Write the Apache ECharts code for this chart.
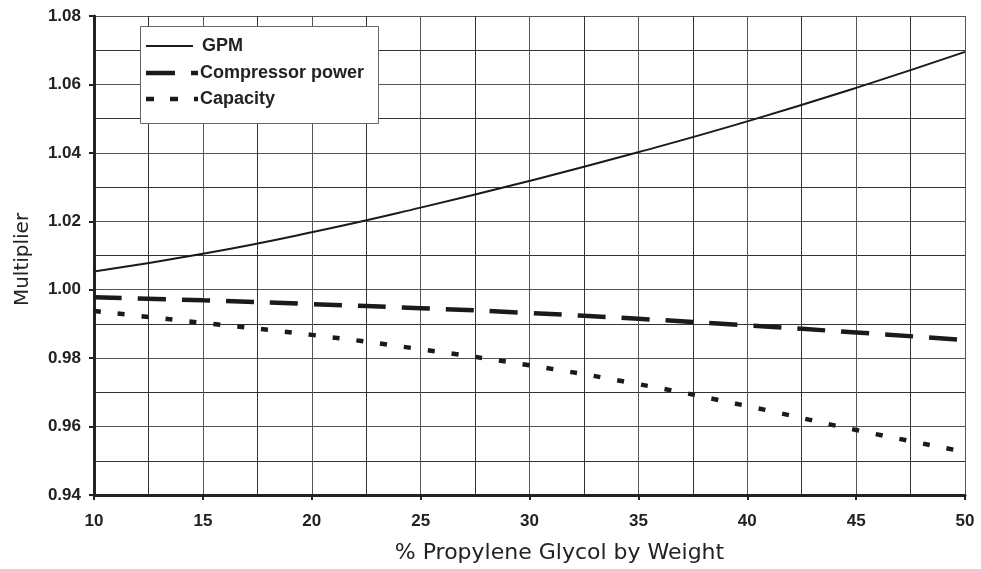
<!DOCTYPE html>
<html><head><meta charset="utf-8">
<script src="https://cdn.jsdelivr.net/npm/echarts@6/dist/echarts.min.js"></script>
<style>html,body{margin:0;padding:0;background:#fff}#c{width:981px;height:569px}</style>
</head><body><div id="c"></div>
<script>
const glycol = [10, 15, 20, 25, 30, 35, 40, 45, 50];
const gpm = [1.0053, 1.0105, 1.0168, 1.0240, 1.0318, 1.0402, 1.0492, 1.0590, 1.0695];
const compressorPower = [0.9978, 0.9969, 0.9958, 0.9946, 0.9932, 0.9915, 0.9896, 0.9875, 0.9853];
const capacity = [0.9938, 0.9903, 0.9868, 0.9826, 0.9779, 0.9724, 0.9660, 0.9590, 0.9526];
const seriesNames = ['GPM', 'Compressor power', 'Capacity'];

const lineColor = '#1a1a1a';
const styles = [
  { width: 2, type: 'solid', dash: null, end: 193 },
  { width: 4.5, type: [28, 16], dash: [29, 16], end: 198 },
  { width: 4.5, type: [7, 17], dash: [8, 16], end: 198 }
];

const toPairs = arr => glycol.map((x, i) => [x, arr[i]]);
const chart = echarts.init(document.getElementById('c'));

const legendGraphics = [
  { type: 'rect', shape: { x: 140.5, y: 26.5, width: 238, height: 97 },
    style: { fill: '#fff', stroke: '#666', lineWidth: 1 }, z: 100 }
];
const rowsY = [46, 73, 99];
seriesNames.forEach((n, i) => {
  legendGraphics.push({ type: 'line', shape: { x1: 146, y1: rowsY[i], x2: styles[i].end, y2: rowsY[i] },
    style: { stroke: lineColor, lineWidth: styles[i].width, lineDash: styles[i].dash }, z: 101 });
  legendGraphics.push({ type: 'text', x: i === 0 ? 202 : 200, y: rowsY[i], z: 101,
    style: { text: n, fill: '#222', font: 'bold 18px "Liberation Sans", Arial', textVerticalAlign: 'middle', verticalAlign: 'middle' } });
});

chart.setOption({
  animation: false,
  backgroundColor: '#fff',
  grid: { left: 94, right: 16, top: 16, bottom: 73 },
  graphic: legendGraphics,
  xAxis: {
    type: 'value', min: 10, max: 50, interval: 5,
    name: '% Propylene Glycol by Weight', nameLocation: 'middle', nameGap: 47,
    nameTextStyle: { fontFamily: 'DejaVu Sans', fontSize: 22, color: '#222', padding: [0, 0, 0, 60] },
    axisLine: { show: true, lineStyle: { color: '#222', width: 3 } },
    axisTick: { show: true, length: 5, lineStyle: { color: '#222', width: 2 } },
    axisLabel: { fontFamily: 'Liberation Sans, Arial', fontWeight: 'bold', fontSize: 17, color: '#222', margin: 18 },
    splitLine: { show: true, lineStyle: { color: '#555', width: 1 } },
    minorTick: { show: false, splitNumber: 2 },
    minorSplitLine: { show: true, lineStyle: { color: '#333', width: 1 } }
  },
  yAxis: {
    type: 'value', min: 0.94, max: 1.08, interval: 0.02,
    name: 'Multiplier', nameLocation: 'middle', nameGap: 61, nameRotate: 90,
    nameTextStyle: { fontFamily: 'DejaVu Sans', fontSize: 20, color: '#222', padding: [0, 8, 0, 0] },
    axisLine: { show: true, lineStyle: { color: '#222', width: 3 } },
    axisTick: { show: true, length: 5, lineStyle: { color: '#222', width: 2 } },
    axisLabel: { fontFamily: 'Liberation Sans, Arial', fontWeight: 'bold', fontSize: 17, color: '#222', margin: 13,
      formatter: v => v.toFixed(2) },
    splitLine: { show: true, lineStyle: { color: '#555', width: 1 } },
    minorTick: { show: false, splitNumber: 2 },
    minorSplitLine: { show: true, lineStyle: { color: '#333', width: 1 } }
  },
  series: seriesNames.map((n, i) => ({
    name: n, type: 'line', data: toPairs([gpm, compressorPower, capacity][i]), smooth: true, symbol: 'none',
    lineStyle: { color: lineColor, width: styles[i].width, type: styles[i].type }
  }))
});
</script></body></html>
